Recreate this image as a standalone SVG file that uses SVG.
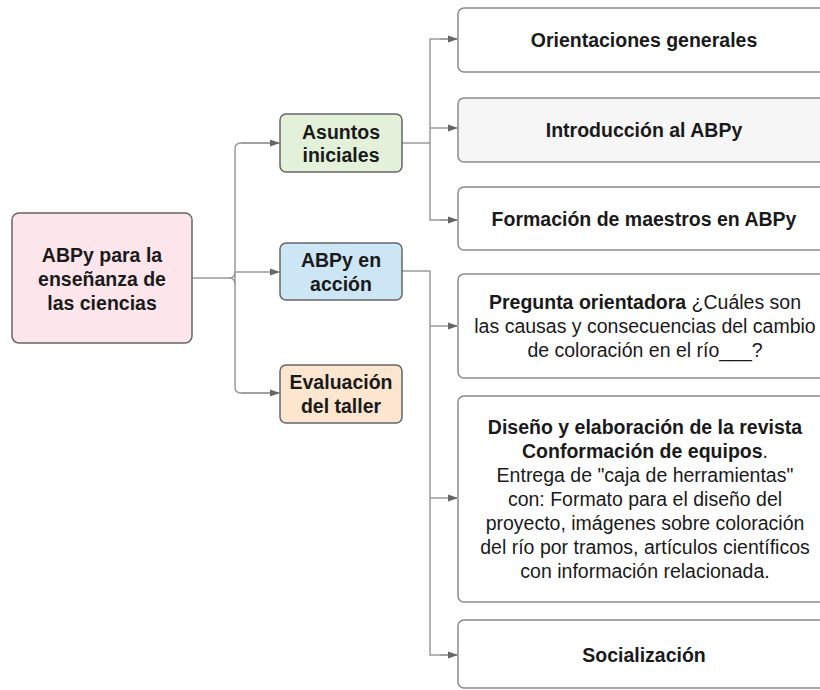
<svg xmlns="http://www.w3.org/2000/svg" width="820" height="690" viewBox="0 0 820 690">
<defs>
<marker id="arr" markerWidth="10" markerHeight="8" refX="9" refY="4" orient="auto" markerUnits="userSpaceOnUse">
<path d="M0,0.5 L10,4 L0,7.5 Z" fill="#666"/>
</marker>
<style>
.t{font-family:"Liberation Sans",Arial,sans-serif;font-size:19.5px;fill:#1a1a1a;text-anchor:middle}
.b{font-weight:bold}
.n{stroke:#666;stroke-width:1.5}
.r{stroke:#8a8a8a;stroke-width:1.5}
.c{fill:none;stroke:#9a9a9a;stroke-width:1.5}
</style>
</defs>
<rect width="820" height="690" fill="#fff"/>
<g id="connectors">
<path class="c" d="M192,278 L229,278 Q235,278 235,272"/>
<path class="c" d="M229,278 Q235,278 235,284"/>
<path class="c" d="M279,143 L241,143 Q235,143 235,149 L235,387 Q235,393 241,393 L279,393" marker-start="none"/>
<path class="c" d="M241,143 L279,143" marker-end="url(#arr)"/>
<path class="c" d="M241,393 L279,393" marker-end="url(#arr)"/>
<path class="c" d="M235,272 L279,272" marker-end="url(#arr)"/>
<path class="c" d="M402,143 L430,143"/>
<path class="c" d="M457,39 L430,39 L430,220 L457,220" />
<path class="c" d="M440,39 L457,39" marker-end="url(#arr)"/>
<path class="c" d="M430,128 L457,128" marker-end="url(#arr)"/>
<path class="c" d="M440,220 L457,220" marker-end="url(#arr)"/>
<path class="c" d="M402,271 L430,271 L430,655 L457,655"/>
<path class="c" d="M430,326 L457,326" marker-end="url(#arr)"/>
<path class="c" d="M430,498 L457,498" marker-end="url(#arr)"/>
<path class="c" d="M440,655 L457,655" marker-end="url(#arr)"/>
</g>
<g id="root">
<rect class="n" x="12" y="213" width="180" height="130" rx="7" fill="#fce6ec"/>
<text class="t b" x="102" y="262">ABPy para la</text>
<text class="t b" x="102" y="286">enseñanza de</text>
<text class="t b" x="102" y="310">las ciencias</text>
</g>
<g id="asuntos">
<rect class="n" x="280" y="114" width="122" height="58" rx="6" fill="#e3f1da"/>
<text class="t b" x="341" y="139">Asuntos</text>
<text class="t b" x="341" y="162">iniciales</text>
</g>
<g id="abpy-accion">
<rect class="n" x="280" y="243" width="122" height="57" rx="6" fill="#cde6f6"/>
<text class="t b" x="341" y="267">ABPy en</text>
<text class="t b" x="341" y="291">acción</text>
</g>
<g id="evaluacion">
<rect class="n" x="280" y="365" width="122" height="58" rx="6" fill="#fce6cf"/>
<text class="t b" x="341" y="389">Evaluación</text>
<text class="t b" x="341" y="413">del taller</text>
</g>
<g id="orientaciones">
<rect class="r" x="458" y="8" width="372" height="64" rx="6" fill="#fff"/>
<text class="t b" x="644" y="47">Orientaciones generales</text>
</g>
<g id="introduccion">
<rect class="r" x="458" y="98" width="372" height="64" rx="6" fill="#f6f6f6"/>
<text class="t b" x="644" y="137">Introducción al ABPy</text>
</g>
<g id="formacion">
<rect class="r" x="458" y="187" width="372" height="63" rx="6" fill="#fff"/>
<text class="t b" x="644" y="226">Formación de maestros en ABPy</text>
</g>
<g id="pregunta">
<rect class="r" x="458" y="274" width="372" height="104" rx="6" fill="#fff"/>
<text class="t" x="645" y="309"><tspan class="b">Pregunta orientadora</tspan> ¿Cuáles son</text>
<text class="t" x="645" y="333">las causas y consecuencias del cambio</text>
<text class="t" x="645" y="357">de coloración en el río___?</text>
</g>
<g id="diseno">
<rect class="r" x="458" y="396" width="372" height="206" rx="6" fill="#fff"/>
<text class="t b" x="645" y="434">Diseño y elaboración de la revista</text>
<text class="t" x="645" y="458"><tspan class="b">Conformación de equipos</tspan>.</text>
<text class="t" x="645" y="482">Entrega de "caja de herramientas"</text>
<text class="t" x="645" y="506">con: Formato para el diseño del</text>
<text class="t" x="645" y="530">proyecto, imágenes sobre coloración</text>
<text class="t" x="645" y="554">del río por tramos, artículos científicos</text>
<text class="t" x="645" y="578">con información relacionada.</text>
</g>
<g id="socializacion">
<rect class="r" x="458" y="620" width="372" height="68" rx="6" fill="#fff"/>
<text class="t b" x="644" y="662">Socialización</text>
</g>
</svg>
